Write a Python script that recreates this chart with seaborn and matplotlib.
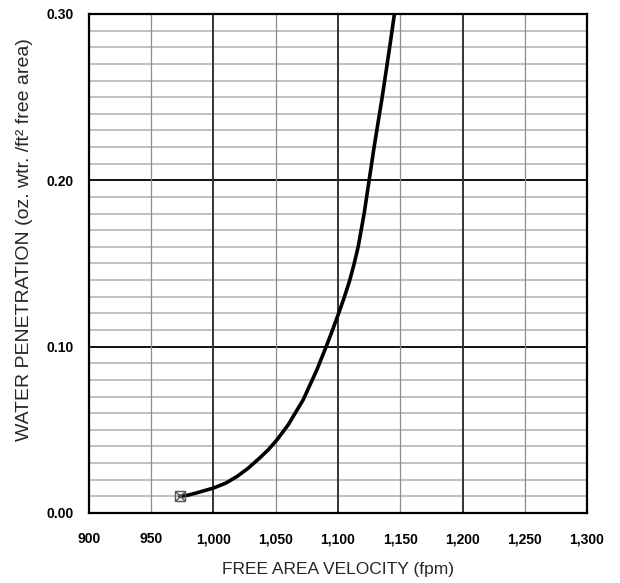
import numpy as np
import matplotlib
matplotlib.use("Agg")
import matplotlib.pyplot as plt
import seaborn as sns
from matplotlib.ticker import FuncFormatter

# values
velocity = [973, 980, 986, 993, 1000, 1010, 1019, 1028, 1037, 1044, 1051,
            1060, 1072, 1083, 1090.5, 1095.6, 1100.5, 1105.2, 1109.5, 1113,
            1116.2, 1121, 1125, 1129, 1135.5, 1141.5, 1145.3]
penetration = [0.010, 0.0108, 0.012, 0.0135, 0.015, 0.018, 0.022, 0.027,
               0.033, 0.038, 0.044, 0.053, 0.068, 0.086, 0.100, 0.110,
               0.120, 0.130, 0.140, 0.150, 0.160, 0.180, 0.200, 0.220,
               0.250, 0.280, 0.300]

x_ticks = [900, 950, 1000, 1050, 1100, 1150, 1200, 1250, 1300]
y_ticks = [0.00, 0.10, 0.20, 0.30]

sns.set_theme(style="white")
plt.rcParams['font.family'] = ['Liberation Sans', 'DejaVu Sans']

fig = plt.figure(figsize=(6.2, 5.83), dpi=100)
ax = fig.add_axes([0.1435, 0.1201, 0.8033, 0.8559])

# grid
for yv in np.arange(0.01, 0.30, 0.01):
    if abs(yv * 10 - round(yv * 10)) < 1e-6:
        ax.axhline(yv, color='black', lw=1.3, zorder=1)
    else:
        ax.axhline(yv, color='#b0b0b0', lw=1.1, zorder=0.5)
for xv in x_ticks[1:-1]:
    if xv % 100 == 0:
        ax.axvline(xv, color='#333333', lw=1.4, zorder=1)
    else:
        ax.axvline(xv, color='#8c8c8c', lw=0.9, zorder=1)

sns.lineplot(x=velocity, y=penetration, ax=ax, color='black', lw=2.6,
             estimator=None, sort=False, zorder=3,
             solid_joinstyle='round', solid_capstyle='round')
ax.plot(velocity[0], penetration[0], marker='s', ms=6.5, mfc='none',
        mec='#555555', mew=1.0, zorder=4)
ax.plot(velocity[0], penetration[0], marker='x', ms=6.5, color='#555555',
        mew=1.0, zorder=4)

ax.set_xlim(900, 1300)
ax.set_ylim(0, 0.30)
ax.set_xticks(x_ticks)
ax.set_yticks(y_ticks)
ax.xaxis.set_major_formatter(FuncFormatter(lambda v, p: f"{int(v):,}"))
ax.yaxis.set_major_formatter(FuncFormatter(lambda v, p: f"{v:.2f}"))
ax.tick_params(axis='both', length=0, labelsize=10, colors='black')
ax.tick_params(axis='y', pad=11)
ax.tick_params(axis='x', pad=14)
for lab in ax.get_xticklabels() + ax.get_yticklabels():
    lab.set_fontweight('bold')

for s in ax.spines.values():
    s.set_color('black')
    s.set_linewidth(1.6)
    s.set_zorder(5)

ax.set_xlabel("FREE AREA VELOCITY (fpm)", fontsize=12.5, labelpad=11)
ax.set_ylabel("WATER PENETRATION (oz. wtr. /ft² free area)", fontsize=14)
ax.yaxis.set_label_coords(-0.112, 0.547)

fig.savefig("out.png", dpi=100)
